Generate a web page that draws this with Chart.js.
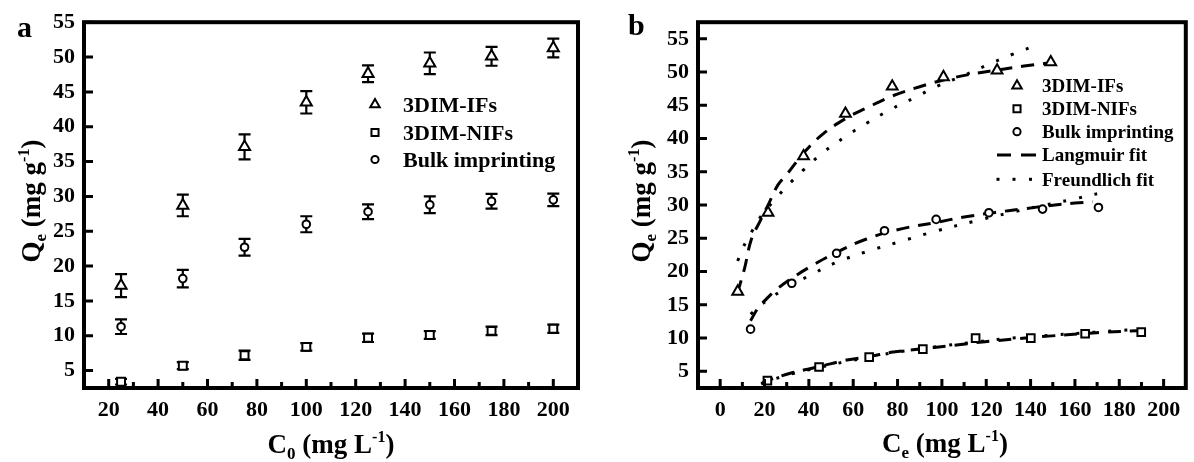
<!DOCTYPE html>
<html><head><meta charset="utf-8">
<script src="https://cdn.jsdelivr.net/npm/chart.js@4.4.1/dist/chart.umd.min.js"></script>
<style>
html,body{margin:0;padding:0;background:#fff;}
#wrap{position:relative;width:1194px;height:462px;overflow:hidden;background:#fff;}
#a{position:absolute;left:0;top:0;}
#b{position:absolute;left:600px;top:0;}
</style></head><body>
<div id="wrap"><canvas id="a" width="600" height="462"></canvas><canvas id="b" width="594" height="462"></canvas></div>
<script>
// ---------- Panel a data ----------
const c0 = [25, 50, 75, 100, 125, 150, 175, 200];
const qIFs = [17.2, 28.7, 37.1, 43.5, 47.6, 49.1, 50.1, 51.3];
const eIFs = [1.65, 1.55, 1.8, 1.6, 1.2, 1.55, 1.35, 1.35];
const qNIFs = [3.4, 5.7, 7.2, 8.4, 9.7, 10.1, 10.7, 11.0];
const eNIFs = [0.4, 0.5, 0.65, 0.55, 0.6, 0.55, 0.6, 0.6];
const qBulk = [11.3, 18.2, 22.7, 26.0, 27.8, 28.8, 29.3, 29.5];
const eBulk = [1.05, 1.25, 1.2, 1.15, 1.05, 1.2, 1.05, 0.9];
const xTicksA = [20, 40, 60, 80, 100, 120, 140, 160, 180, 200];
const xMinorA = [30, 50, 70, 90, 110, 130, 150, 170, 190];
const yTicks = [5, 10, 15, 20, 25, 30, 35, 40, 45, 50, 55];
const seriesNames = ['3DIM-IFs', '3DIM-NIFs', 'Bulk imprinting'];
const fitNames = ['Langmuir fit', 'Freundlich fit'];

// ---------- Panel b data ----------
const ceIFs = [7.9, 21.6, 37.6, 56.5, 77.6, 100.7, 124.9, 149.1];
const qeIFs = [17.0, 28.85, 37.35, 43.75, 47.85, 49.25, 50.25, 51.5];
const ceNIFs = [21.3, 44.6, 67.2, 91.4, 115.2, 140.1, 164.6, 189.9];
const qeNIFs = [3.6, 5.65, 7.15, 8.35, 10.0, 10.0, 10.65, 10.9];
const ceBulk = [13.7, 32.3, 52.5, 74.1, 97.4, 121.2, 145.4, 170.6];
const qeBulk = [11.35, 18.25, 22.75, 26.15, 27.85, 28.85, 29.4, 29.65];

const langIFsX = [7.8, 11, 14, 18, 21.6, 26, 30, 37.6, 46, 56.5, 66, 77.6, 90, 100.7, 115, 125, 137, 149];
const langIFsY = [16.8, 20.5, 24.8, 27.6, 30.0, 33.0, 34.6, 37.8, 40.6, 43.0, 44.6, 46.4, 47.8, 48.8, 49.8, 50.3, 50.9, 51.4];
const freIFsX = [7.9, 10, 14.4, 19, 23.8, 30, 37.6, 46, 56.5, 66, 77, 88, 97.4, 110, 120, 132, 144];
const freIFsY = [21.6, 23.4, 26.1, 28.6, 30.5, 32.8, 35.3, 37.8, 40.3, 42.3, 44.4, 46.2, 47.8, 49.5, 51.0, 52.7, 54.2];
const langBulkX = [13.7, 17, 20, 25, 32.3, 42, 52.5, 66, 80, 97.4, 110, 124, 136, 148, 160, 168];
const langBulkY = [12.6, 14.5, 15.6, 17.2, 19.0, 21.0, 22.9, 24.9, 26.3, 27.4, 28.2, 28.9, 29.4, 29.9, 30.3, 30.5];
const freBulkX = [13.7, 18, 22, 27, 32.3, 42, 52.5, 66, 80, 97.4, 115, 130, 145, 158, 170];
const freBulkY = [13.6, 14.9, 15.8, 17.0, 18.0, 19.7, 21.4, 23.0, 24.4, 26.1, 27.6, 28.8, 29.9, 30.8, 31.7];
const langNIFsX = [18.5, 21.3, 32, 44.6, 57, 67, 78, 91, 102, 115, 124, 140, 148, 165, 173, 188];
const langNIFsY = [3.1, 3.6, 4.75, 5.7, 6.7, 7.2, 7.9, 8.4, 8.8, 9.3, 9.6, 10.1, 10.3, 10.7, 10.9, 11.1];
const freNIFsX = [18.5, 32, 45, 57, 67, 78, 91, 102, 115, 128, 140, 152, 165, 178, 188];
const freNIFsY = [3.2, 4.6, 5.6, 6.5, 7.1, 7.8, 8.4, 8.9, 9.4, 9.9, 10.2, 10.5, 10.8, 11.1, 11.3];
const xTicksB = [0, 20, 40, 60, 80, 100, 120, 140, 160, 180, 200];
const xMinorB = [10, 30, 50, 70, 90, 110, 130, 150, 170, 190];

// ---------- helpers ----------
const FONT = "'Liberation Serif','Times New Roman',serif";
const H = Chart.helpers;
const pairs = (xs, ys) => xs.map((x, i) => ({x: x, y: ys[i]}));

function marker(ctx, style, r, x, y) {
  ctx.save();
  ctx.fillStyle = '#fff'; ctx.strokeStyle = '#000'; ctx.lineWidth = 2;
  H.drawPoint(ctx, {pointStyle: style, radius: r, borderWidth: 2, rotation: 0}, x, y);
  ctx.restore();
}
function rich(ctx, parts, cx, cy, rot) {
  ctx.save();
  ctx.translate(cx, cy);
  if (rot) ctx.rotate(-Math.PI / 2);
  ctx.fillStyle = '#000'; ctx.textBaseline = 'alphabetic'; ctx.textAlign = 'left';
  let w = 0;
  parts.forEach(p => { ctx.font = 'bold ' + p.s + 'px ' + FONT; p.w = ctx.measureText(p.t).width; w += p.w; });
  let x = -w / 2;
  parts.forEach(p => { ctx.font = 'bold ' + p.s + 'px ' + FONT; ctx.fillText(p.t, x, p.dy || 0); x += p.w; });
  ctx.restore();
}
function frame(chart, xMaj, xMin, yMaj) {
  const {ctx, chartArea: a, scales: {x, y}} = chart;
  ctx.save();
  ctx.strokeStyle = '#000'; ctx.lineCap = 'butt';
  ctx.lineWidth = 3;
  ctx.beginPath();
  xMaj.forEach(v => { const p = x.getPixelForValue(v); ctx.moveTo(p, a.bottom); ctx.lineTo(p, a.bottom - 9); });
  xMin.forEach(v => { const p = x.getPixelForValue(v); ctx.moveTo(p, a.bottom); ctx.lineTo(p, a.bottom - 6); });
  yMaj.forEach(v => { const p = y.getPixelForValue(v); ctx.moveTo(a.left, p); ctx.lineTo(a.left + 9, p); });
  ctx.stroke();
  ctx.lineWidth = 4;
  ctx.strokeRect(a.left, a.top, a.right - a.left, a.bottom - a.top);
  ctx.restore();
}
function legend(ctx, items, mx, tx, rows, size, base) {
  ctx.save();
  ctx.font = 'bold ' + size + 'px ' + FONT;
  ctx.fillStyle = '#000'; ctx.textBaseline = 'alphabetic'; ctx.textAlign = 'left';
  items.forEach((it, i) => {
    const cy = rows[i];
    if (it.kind === 'dash') {
      ctx.lineWidth = 3; ctx.strokeStyle = '#000';
      ctx.beginPath(); ctx.moveTo(mx - 20, cy); ctx.lineTo(mx - 6, cy); ctx.moveTo(mx + 4, cy); ctx.lineTo(mx + 19, cy); ctx.stroke();
    } else if (it.kind === 'dot') {
      [-19, -3, 13.5].forEach(d => { ctx.fillRect(mx + d - 1.5, cy - 1.5, 3, 3); });
    } else {
      marker(ctx, it.kind, it.r, mx, cy);
    }
    ctx.fillText(it.label, tx, cy + base);
  });
  ctx.restore();
}
const tickFont = {family: FONT, size: 22, weight: 'bold'};
const TRI = 6.4, SQ = 5.6, CIR = 3.8;

// ---------- Panel a ----------
const errPlugin = {
  id: 'errbars',
  beforeDatasetsDraw(chart) {
    const {ctx, scales: {y}} = chart;
    ctx.save(); ctx.strokeStyle = '#000'; ctx.lineWidth = 2.2;
    chart.data.datasets.forEach((ds, i) => {
      const meta = chart.getDatasetMeta(i);
      ds.data.forEach((d, j) => {
        const px = meta.data[j].x, e = ds.errors[j];
        const t = y.getPixelForValue(d.y + e), b = y.getPixelForValue(d.y - e);
        ctx.beginPath();
        ctx.moveTo(px, t); ctx.lineTo(px, b);
        ctx.moveTo(px - 6, t); ctx.lineTo(px + 6, t);
        ctx.moveTo(px - 6, b); ctx.lineTo(px + 6, b);
        ctx.stroke();
      });
    });
    ctx.restore();
  }
};
const decoA = {
  id: 'decoA',
  afterDraw(chart) {
    const ctx = chart.ctx;
    frame(chart, xTicksA, xMinorA, yTicks);
    legend(ctx, [
      {label: seriesNames[0], kind: 'triangle', r: 5.5},
      {label: seriesNames[1], kind: 'rect', r: 5},
      {label: seriesNames[2], kind: 'circle', r: 3.6}
    ], 375, 403, [104.5, 132.5, 159.5], 22, 7.3);
    rich(ctx, [{t: 'C', s: 27}, {t: '0', s: 17, dy: 6}, {t: ' (mg L', s: 27}, {t: '-1', s: 16, dy: -11}, {t: ')', s: 27}], 331, 453, false);
    rich(ctx, [{t: 'Q', s: 27}, {t: 'e', s: 17, dy: 6}, {t: ' (mg g', s: 27}, {t: '-1', s: 16, dy: -11}, {t: ')', s: 27}], 40, 201, true);
    ctx.save(); ctx.font = 'bold 30px ' + FONT; ctx.fillStyle = '#000'; ctx.fillText('a', 17, 37); ctx.restore();
  }
};
const ptA = (style, r) => ({pointStyle: style, pointRadius: r, pointHoverRadius: r, pointBackgroundColor: '#fff', pointBorderColor: '#000', pointBorderWidth: 2, showLine: false});
new Chart(document.getElementById('a'), {
  type: 'scatter',
  data: {datasets: [
    Object.assign({label: seriesNames[0], data: pairs(c0, qIFs), errors: eIFs}, ptA('triangle', TRI)),
    Object.assign({label: seriesNames[1], data: pairs(c0, qNIFs), errors: eNIFs}, ptA('rect', SQ)),
    Object.assign({label: seriesNames[2], data: pairs(c0, qBulk), errors: eBulk}, ptA('circle', CIR))
  ]},
  options: {
    responsive: false, animation: false, devicePixelRatio: 1,
    layout: {padding: {left: 0, top: 21, right: 22, bottom: 0}},
    plugins: {legend: {display: false}, tooltip: {enabled: false}},
    scales: {
      x: {type: 'linear', min: 10, max: 210,
        afterBuildTicks: s => { s.ticks = xTicksA.map(v => ({value: v})); },
        afterFit: s => { s.height = 74; },
        grid: {display: false, drawTicks: false}, border: {display: false},
        ticks: {font: tickFont, color: '#000', padding: 9, maxRotation: 0, autoSkip: false}},
      y: {type: 'linear', min: 2.5, max: 55,
        afterBuildTicks: s => { s.ticks = yTicks.map(v => ({value: v})); },
        afterFit: s => { s.width = 84; },
        grid: {display: false, drawTicks: false}, border: {display: false},
        ticks: {font: tickFont, color: '#000', padding: 9, autoSkip: false}}
    }
  },
  plugins: [errPlugin, decoA]
});

// ---------- Panel b ----------
const decoB = {
  id: 'decoB',
  afterDraw(chart) {
    const ctx = chart.ctx;
    frame(chart, xTicksB, xMinorB, yTicks);
    legend(ctx, [
      {label: seriesNames[0], kind: 'triangle', r: 5.5},
      {label: seriesNames[1], kind: 'rect', r: 5},
      {label: seriesNames[2], kind: 'circle', r: 3.6},
      {label: fitNames[0], kind: 'dash'},
      {label: fitNames[1], kind: 'dot'}
    ], 417, 442, [85.7, 108.7, 131.7, 155, 179.3], 19, 6.2);
    rich(ctx, [{t: 'C', s: 27}, {t: 'e', s: 17, dy: 6}, {t: ' (mg L', s: 27}, {t: '-1', s: 16, dy: -11}, {t: ')', s: 27}], 345, 452, false);
    rich(ctx, [{t: 'Q', s: 27}, {t: 'e', s: 17, dy: 6}, {t: ' (mg g', s: 27}, {t: '-1', s: 16, dy: -11}, {t: ')', s: 27}], 50, 201, true);
    ctx.save(); ctx.font = 'bold 30px ' + FONT; ctx.fillStyle = '#000'; ctx.fillText('b', 28, 35); ctx.restore();
  }
};
const fit = (label, xs, ys, dash) => ({label: label, data: pairs(xs, ys), showLine: true, pointRadius: 0, pointHoverRadius: 0, borderColor: '#000', borderWidth: 3, borderDash: dash, borderCapStyle: 'butt', tension: 0.4, fill: false});
const LD = [13, 9], FD = [3, 13];
new Chart(document.getElementById('b'), {
  type: 'scatter',
  data: {datasets: [
    Object.assign({label: seriesNames[0], data: pairs(ceIFs, qeIFs)}, ptA('triangle', 6.2)),
    Object.assign({label: seriesNames[1], data: pairs(ceNIFs, qeNIFs)}, ptA('rect', 5.4)),
    Object.assign({label: seriesNames[2], data: pairs(ceBulk, qeBulk)}, ptA('circle', CIR)),
    fit(fitNames[0], langIFsX, langIFsY, LD),
    fit(fitNames[1], freIFsX, freIFsY, FD),
    fit(fitNames[0], langBulkX, langBulkY, LD),
    fit(fitNames[1], freBulkX, freBulkY, FD),
    fit(fitNames[0], langNIFsX, langNIFsY, LD),
    fit(fitNames[1], freNIFsX, freNIFsY, FD)
  ]},
  options: {
    responsive: false, animation: false, devicePixelRatio: 1,
    layout: {padding: {left: 0, top: 21, right: 3, bottom: 0}},
    plugins: {legend: {display: false}, tooltip: {enabled: false}},
    scales: {
      x: {type: 'linear', min: -10, max: 210,
        afterBuildTicks: s => { s.ticks = xTicksB.map(v => ({value: v})); },
        afterFit: s => { s.height = 74; },
        grid: {display: false, drawTicks: false}, border: {display: false},
        ticks: {font: tickFont, color: '#000', padding: 9, maxRotation: 0, autoSkip: false}},
      y: {type: 'linear', min: 2.5, max: 57.5,
        afterBuildTicks: s => { s.ticks = yTicks.map(v => ({value: v})); },
        afterFit: s => { s.width = 98; },
        grid: {display: false, drawTicks: false}, border: {display: false},
        ticks: {font: tickFont, color: '#000', padding: 9, autoSkip: false}}
    }
  },
  plugins: [decoB]
});
</script>
</body></html>
